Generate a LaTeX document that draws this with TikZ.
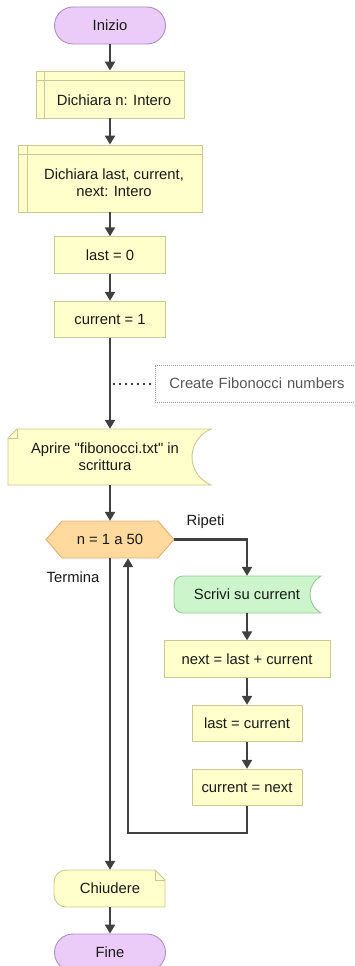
\documentclass[tikz,border=0pt]{standalone}
\usepackage{fontspec}
\setmainfont{Liberation Sans}[Ligatures=TeXOff]
\usetikzlibrary{arrows.meta,backgrounds}
\definecolor{yfill}{HTML}{FFFFCC}
\definecolor{ybord}{HTML}{C8C896}
\definecolor{pfill}{HTML}{EBCCF8}
\definecolor{pbord}{HTML}{B08CC4}
\definecolor{gfill}{HTML}{CCF5CC}
\definecolor{gbord}{HTML}{96C896}
\definecolor{ofill}{HTML}{FFD99E}
\definecolor{obord}{HTML}{E0B070}
\definecolor{arrc}{HTML}{404040}
\definecolor{cmt}{HTML}{555555}
\begin{document}
\begin{tikzpicture}[x=1pt,y=-1pt,
  txt/.style={font=\fontsize{14.8}{17}\selectfont, text=black!90, inner sep=0pt},
  procbox/.style={txt, draw=ybord, fill=yfill, line width=0.9pt, minimum height=36.5pt},
  termbox/.style={txt, draw=pbord, fill=pfill, line width=0.9pt, rounded corners=18.5pt, minimum width=111pt, minimum height=37pt},
  plain/.style={txt, minimum height=37pt},
  shapeline/.style={line width=0.9pt},
  arr/.style={draw=arrc, line width=2.2pt, -{Triangle[length=9pt,width=10pt]}},
]
\useasboundingbox (0,0) rectangle (355,966);
\clip (0,0) rectangle (355,966);

% nodes
\node[termbox] (inizio) at (110,25.5) {Inizio};
\node[procbox, minimum width=148pt, minimum height=47pt,
  label={[txt,xshift=4pt,yshift=-5.5pt]center:Dichiara n: Intero}] (decl1) at (110,94.5) {};
\draw[ybord, shapeline] ([xshift=9pt]decl1.north west) -- ([xshift=9pt]decl1.south west);
\draw[ybord, shapeline] ([yshift=-10pt]decl1.north west) -- ([yshift=-10pt]decl1.north east);

\node[procbox, minimum width=184pt, minimum height=67pt,
  label={[txt,align=center,xshift=4pt,yshift=-4.5pt]center:{Dichiara last, current,\\next: Intero}}] (decl2) at (110,178.5) {};
\draw[ybord, shapeline] ([xshift=10pt]decl2.north west) -- ([xshift=10pt]decl2.south west);
\draw[ybord, shapeline] ([yshift=-10pt]decl2.north west) -- ([yshift=-10pt]decl2.north east);

\node[procbox, minimum width=111pt] (last0) at (110,255) {last = 0};
\node[procbox, minimum width=111pt] (cur1) at (110,319.5) {current = 1};

\node[txt, text=cmt, anchor=west, draw=gray!80, line width=0.8pt, dash pattern=on 1pt off 1pt,
  minimum height=37pt, text width=200pt, inner xsep=14pt] (cmtbox) at (155,383.5) {Create Fibonocci numbers};

\node[plain, minimum width=203pt, minimum height=56pt,
  label={[txt,align=center,xshift=-5pt]center:{Aprire "fibonocci.txt" in\\scrittura}}] (aprire) at (110,457) {};

\node[plain, minimum width=128pt] (hex) at (110,539.5) {n = 1 a 50};
\node[txt] (ripeti) at (205.5,522) {Ripeti};
\node[txt] (termina) at (73,577) {Termina};

\node[plain, minimum width=147pt] (scrivi) at (247,594.5) {Scrivi su current};
\node[procbox, minimum width=166pt] (nextb) at (247,659) {next = last + current};
\node[procbox, minimum width=110pt] (lastcur) at (247,723.5) {last = current};
\node[procbox, minimum width=110pt] (curnext) at (247,787.5) {current = next};
\coordinate (loopc) at (128,833);

\node[plain, minimum width=111pt] (chiudere) at (110,888.5) {Chiudere};
\node[termbox] (fine) at (110,952.5) {Fine};

% special shapes
\begin{pgfonlayer}{background}
\path[fill=yfill, draw=ybord, shapeline] (8,438) -- (17,429) -- (211,429)
  .. controls (185.7,440) and (185.7,474) .. (211,485) -- (8,485) -- cycle;
\draw[ybord, line width=0.6pt] (17,429) -- (17,438) -- (8,438);
\path[fill=ofill, draw=obord, shapeline] (46,539.5) -- (62,521) -- (158,521) -- (174,539.5)
  -- (158,558) -- (62,558) -- cycle;
\path[fill=gfill, draw=gbord, shapeline] (321,576) -- (183,576)
  arc[start angle=90, end angle=180, radius=9pt] -- (174,604)
  arc[start angle=180, end angle=270, radius=9pt] -- (321,613)
  .. controls (306.3,604) and (306.3,585) .. (321,576) -- cycle;
\path[fill=yfill, draw=ybord, shapeline] (155,870) -- (66,870)
  arc[start angle=90, end angle=180, radius=12pt] -- (54,895)
  arc[start angle=180, end angle=270, radius=12pt] -- (165,907) -- (165,880) -- cycle;
\draw[ybord, line width=0.6pt] (155,870) -- (155,880) -- (165,880);
\end{pgfonlayer}

% connectors
\draw[arrc, line width=2pt, dash pattern=on 2pt off 4pt] ([xshift=3pt]cur1.south |- cmtbox.west) -- (cmtbox.west);
\draw[arr] (inizio) -- (decl1);
\draw[arr] (decl1) -- (decl2);
\draw[arr] (decl2) -- (last0);
\draw[arr] (last0) -- (cur1);
\draw[arr] (cur1) -- (aprire);
\draw[arr] (aprire) -- (hex);
\draw[arr] (hex.east) -| (scrivi.north);
\draw[arr] (scrivi) -- (nextb);
\draw[arr] (nextb) -- (lastcur);
\draw[arr] (lastcur) -- (curnext);
\draw[arr] (curnext.south) |- (loopc) -- (loopc |- hex.south);
\draw[arr] (hex) -- (chiudere);
\draw[arr] (chiudere) -- (fine);
\end{tikzpicture}
\end{document}
